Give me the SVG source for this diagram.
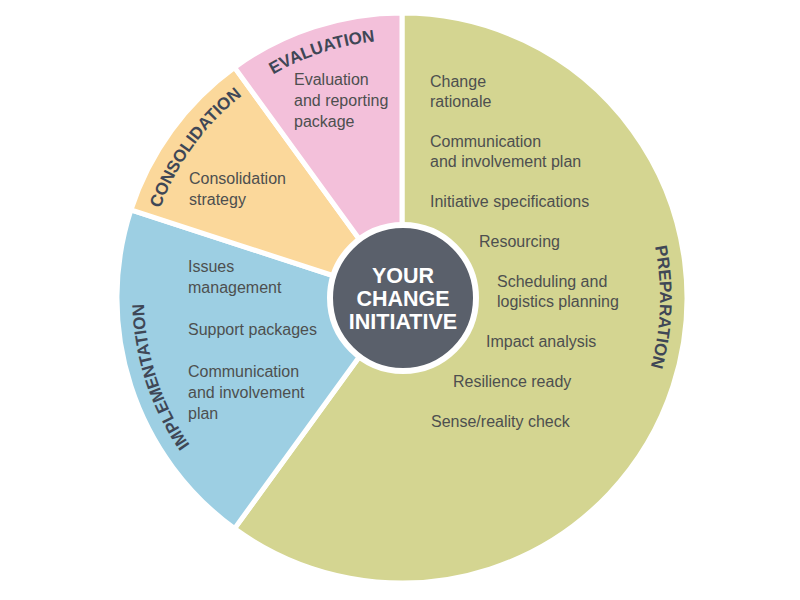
<svg xmlns="http://www.w3.org/2000/svg" xmlns:xlink="http://www.w3.org/1999/xlink" width="800" height="600" viewBox="0 0 800 600">
<style>
.sec{stroke:#ffffff;stroke-width:5;stroke-linejoin:round}
.t{font-family:"Liberation Sans",Arial,Helvetica,sans-serif;font-size:16px;fill:#4d4f4f}
.lab{font-family:"Liberation Sans",Arial,Helvetica,sans-serif;font-size:17px;font-weight:bold;fill:#3f4756}
.ct{font-family:"Liberation Sans",Arial,Helvetica,sans-serif;font-size:21.5px;font-weight:bold;fill:#ffffff;text-anchor:middle}
</style>
<defs>
<path id="arcEval" d="M183.2,161.3 A258,258 0 0 1 498.6,58.8"/>
<path id="arcCons" d="M144.6,316.0 A258,258 0 0 1 339.6,47.7"/>
<path id="arcImpl" d="M265.3,516.8 A258,258 0 0 1 162.8,201.4"/>
<path id="arcPrep" d="M605.3,139.1 A258,258 0 0 1 593.7,470.6"/>
</defs>
<rect width="800" height="600" fill="#ffffff"/>
<g id="preparation">
<path class="sec" fill="#d4d591" d="M402,298 L402,13 A285,285 0 1 1 234.5,528.6 Z"/>
<text class="lab"><textPath xlink:href="#arcPrep" startOffset="50%" text-anchor="middle">PREPARATION</textPath></text>
<text class="t" x="430" y="87">Change</text>
<text class="t" x="430" y="107">rationale</text>
<text class="t" x="430" y="147">Communication</text>
<text class="t" x="430" y="167">and involvement plan</text>
<text class="t" x="430" y="207">Initiative specifications</text>
<text class="t" x="479" y="247">Resourcing</text>
<text class="t" x="497" y="287">Scheduling and</text>
<text class="t" x="497" y="307">logistics planning</text>
<text class="t" x="486" y="347">Impact analysis</text>
<text class="t" x="453" y="387">Resilience ready</text>
<text class="t" x="431" y="427">Sense/reality check</text>
</g>
<g id="implementation">
<path class="sec" fill="#9dcfe3" d="M402,298 L234.5,528.6 A285,285 0 0 1 130.9,209.9 Z"/>
<text class="lab"><textPath xlink:href="#arcImpl" startOffset="50%" text-anchor="middle">IMPLEMENTATION</textPath></text>
<text class="t" x="188" y="272">Issues</text>
<text class="t" x="188" y="293">management</text>
<text class="t" x="188" y="335">Support packages</text>
<text class="t" x="188" y="377">Communication</text>
<text class="t" x="188" y="398">and involvement</text>
<text class="t" x="188" y="419">plan</text>
</g>
<g id="consolidation">
<path class="sec" fill="#fbd89b" d="M402,298 L130.9,209.9 A285,285 0 0 1 234.5,67.4 Z"/>
<text class="lab"><textPath xlink:href="#arcCons" startOffset="50%" text-anchor="middle">CONSOLIDATION</textPath></text>
<text class="t" x="189" y="184">Consolidation</text>
<text class="t" x="189" y="205">strategy</text>
</g>
<g id="evaluation">
<path class="sec" fill="#f3c0da" d="M402,298 L234.5,67.4 A285,285 0 0 1 402,13 Z"/>
<text class="lab"><textPath xlink:href="#arcEval" startOffset="50%" text-anchor="middle">EVALUATION</textPath></text>
<text class="t" x="294" y="85">Evaluation</text>
<text class="t" x="294" y="106">and reporting</text>
<text class="t" x="294" y="127">package</text>
</g>
<g id="center">
<circle cx="403" cy="298" r="73" fill="#5a606b" stroke="#ffffff" stroke-width="6"/>
<text class="ct" x="403" y="283">YOUR</text>
<text class="ct" x="403" y="306">CHANGE</text>
<text class="ct" x="403" y="329">INITIATIVE</text>
</g>
</svg>
